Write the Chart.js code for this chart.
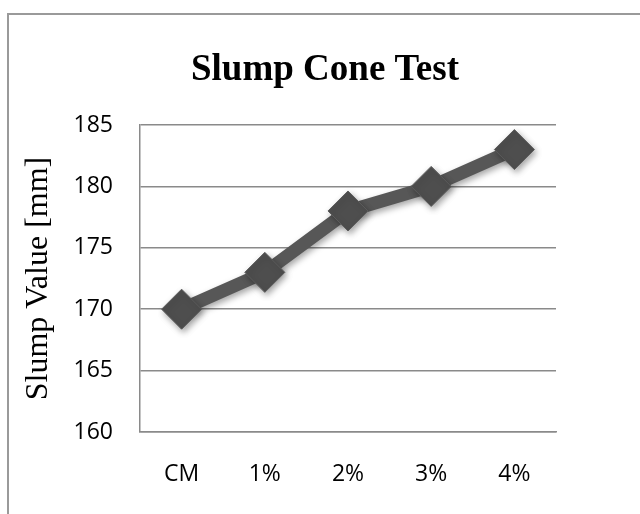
<!DOCTYPE html>
<html>
<head>
<meta charset="utf-8">
<script src="https://cdn.jsdelivr.net/npm/chart.js@4/dist/chart.umd.min.js"></script>
<style>
html,body{margin:0;padding:0;background:#fff;}
canvas{display:block;}
</style>
</head>
<body>
<canvas id="c" width="640" height="514"></canvas>
<script>
const categories = ['CM', '1%', '2%', '3%', '4%'];
const slumpValues = [170, 173, 178, 180, 183];
const yTicks = [160, 165, 170, 175, 180, 185];
const chartTitle = 'Slump Cone Test';
const yAxisTitle = 'Slump Value [mm]';

const framePlugin = {
  id: 'frame',
  beforeDraw(chart) {
    const ctx = chart.ctx;
    ctx.save();
    ctx.fillStyle = '#fff';
    ctx.fillRect(0, 0, chart.width, chart.height);
    ctx.strokeStyle = '#9a9a9a';
    ctx.lineWidth = 2;
    ctx.strokeRect(8, 14, chart.width + 20, chart.height + 20);
    ctx.restore();
  },
  afterDraw(chart) {
    const ctx = chart.ctx;
    ctx.save();
    ctx.fillStyle = '#000';
    ctx.font = 'bold 37px "Liberation Serif", "Times New Roman", serif';
    ctx.textAlign = 'center';
    ctx.textBaseline = 'alphabetic';
    ctx.fillText(chartTitle, 325, 80);
    ctx.restore();
  }
};

const shadowPlugin = {
  id: 'shadow',
  beforeDatasetsDraw(chart) {
    const ctx = chart.ctx;
    ctx.save();
    ctx.shadowColor = 'rgba(0,0,0,0.35)';
    ctx.shadowBlur = 6;
    ctx.shadowOffsetX = 2;
    ctx.shadowOffsetY = 3;
  },
  afterDatasetsDraw(chart) {
    chart.ctx.restore();
  }
};

new Chart(document.getElementById('c'), {
  type: 'line',
  data: {
    labels: categories,
    datasets: [{
      data: slumpValues,
      borderColor: '#575757',
      borderWidth: 13,
      tension: 0,
      pointStyle: 'rectRot',
      pointRadius: 20,
      pointHoverRadius: 20,
      pointBackgroundColor: '#4e4e4e',
      pointBorderColor: '#5c5c5c',
      pointBorderWidth: 1
    }]
  },
  options: {
    responsive: false,
    animation: false,
    layout: { padding: { top: 125, right: 84, left: 0, bottom: 0 } },
    plugins: {
      legend: { display: false },
      title: { display: false },
      tooltip: { enabled: false }
    },
    scales: {
      x: {
        offset: true,
        grid: { display: true, color: 'rgba(0,0,0,0)', drawTicks: false },
        border: { display: true, color: '#8a8a8a', width: 1.5 },
        ticks: {
          color: '#000',
          padding: 29,
          font: { family: '"Open Sans", sans-serif', size: 23 }
        },
        afterFit(scale) { scale.height = 82; }
      },
      y: {
        min: 160,
        max: 185,
        afterBuildTicks(scale) { scale.ticks = yTicks.map(v => ({ value: v })); },
        grid: { color: '#8a8a8a', lineWidth: 1.5, drawTicks: false },
        border: { display: true, color: '#8a8a8a', width: 1.5 },
        ticks: {
          color: '#000',
          padding: 27,
          font: { family: '"Open Sans", sans-serif', size: 23 }
        },
        title: {
          display: true,
          text: yAxisTitle,
          color: '#000',
          padding: { top: 19, bottom: 0 },
          font: { family: '"Liberation Serif", "Times New Roman", serif', size: 32 }
        },
        afterFit(scale) { scale.width = 140; }
      }
    }
  },
  plugins: [framePlugin, shadowPlugin]
});
</script>
</body>
</html>
